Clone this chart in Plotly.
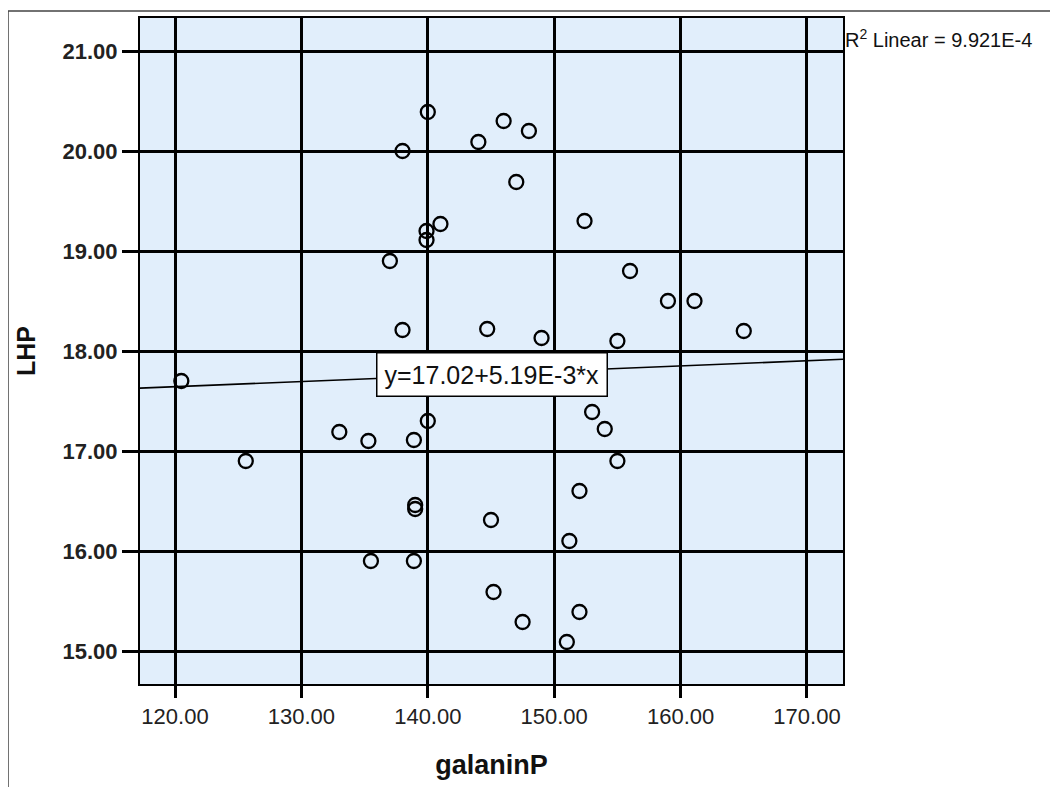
import plotly.graph_objects as go

# Data
galaninP = [120.5, 125.6, 133.0, 135.3, 135.5, 137.0, 138.0, 138.0, 138.9, 139.0,
            139.0, 138.9, 139.9, 139.9, 140.0, 140.0, 141.0, 144.0, 144.7, 145.0,
            145.2, 146.0, 147.0, 147.5, 148.0, 149.0, 151.0, 151.2, 152.0, 152.0,
            152.4, 153.0, 154.0, 155.0, 155.0, 156.0, 159.0, 161.1, 165.0]
LHP = [17.70, 16.90, 17.19, 17.10, 15.90, 18.90, 20.00, 18.21, 17.11, 16.46,
       16.42, 15.90, 19.20, 19.11, 20.39, 17.30, 19.27, 20.09, 18.22, 16.31,
       15.59, 20.30, 19.69, 15.29, 20.20, 18.13, 15.09, 16.10, 16.60, 15.39,
       19.30, 17.39, 17.22, 18.10, 16.90, 18.80, 18.50, 18.50, 18.20]

fit_intercept = 17.02
fit_slope = 5.19e-3
fit_label = "y=17.02+5.19E-3*x"
r2_label = "R<sup>2</sup> Linear = 9.921E-4"

x_ticks = [120, 130, 140, 150, 160, 170]
x_ticktext = ["120.00", "130.00", "140.00", "150.00", "160.00", "170.00"]
y_ticks = [15, 16, 17, 18, 19, 20, 21]
y_ticktext = ["15.00", "16.00", "17.00", "18.00", "19.00", "20.00", "21.00"]

x_range = [117.23, 172.85]
y_range = [14.67, 21.33]

fit_x = x_range
fit_y = [fit_intercept + fit_slope * v for v in fit_x]

# page has an 8px body margin; plot area is 703 x 668 px
L, T, PW, PH = 132, 8, 703, 668

fig = go.Figure()
fig.add_trace(go.Scatter(
    x=fit_x, y=fit_y, mode="lines",
    line=dict(color="black", width=1.6), showlegend=False, hoverinfo="skip"))
fig.add_trace(go.Scatter(
    x=galaninP, y=LHP, mode="markers",
    marker=dict(symbol="circle-open", size=14, color="black", line=dict(width=2.3)),
    showlegend=False))

fig.add_annotation(
    x=145.08, y=17.77, xref="x", yref="y", text=fit_label, showarrow=False,
    font=dict(family="Liberation Sans, Arial, sans-serif", size=25, color="#111"),
    bgcolor="white", bordercolor="black", borderwidth=1.5, borderpad=7)

fig.add_annotation(
    x=1.0, y=(PH - 21) / PH, xref="paper", yref="paper", text=r2_label,
    showarrow=False, xanchor="left", yanchor="middle",
    font=dict(family="Liberation Sans, Arial, sans-serif", size=20, color="#111"))

# outer frame (top and left edges visible)
fig.add_shape(type="rect", xref="paper", yref="paper",
              x0=(0 - L) / PW, x1=(1100 - L) / PW,
              y0=-200 / PH, y1=(PH + T - 1) / PH,
              line=dict(color="#444", width=1.5), layer="below")

fig.update_xaxes(
    range=x_range, tickvals=x_ticks, ticktext=x_ticktext,
    showgrid=True, gridcolor="black", gridwidth=2.5, zeroline=False,
    showline=True, linecolor="black", linewidth=2, mirror=True,
    ticks="outside", ticklen=12, tickwidth=2.5, tickcolor="black",
    tickfont=dict(family="Liberation Sans, Arial, sans-serif", size=22, color="#222"),
    title=dict(text="<b>galaninP</b>", standoff=27,
               font=dict(family="Liberation Sans, Arial, sans-serif", size=27, color="#111")))
fig.update_yaxes(
    range=y_range, tickvals=y_ticks, ticktext=y_ticktext,
    showgrid=True, gridcolor="black", gridwidth=2.5, zeroline=False,
    showline=True, linecolor="black", linewidth=2, mirror=True,
    ticks="outside", ticklen=16, tickwidth=2.5, tickcolor="black",
    tickfont=dict(family="Liberation Sans, Arial, sans-serif", size=22, color="#222",
                  weight="bold"),
    title=dict(text="<b>LHP</b>", standoff=20,
               font=dict(family="Liberation Sans, Arial, sans-serif", size=25, color="#111")))

fig.update_layout(
    width=1058, height=787,
    margin=dict(l=L, r=1058 - L - PW, t=T, b=787 - T - PH),
    paper_bgcolor="white", plot_bgcolor="#E1EEFB",
)

fig.write_html("out.html")
